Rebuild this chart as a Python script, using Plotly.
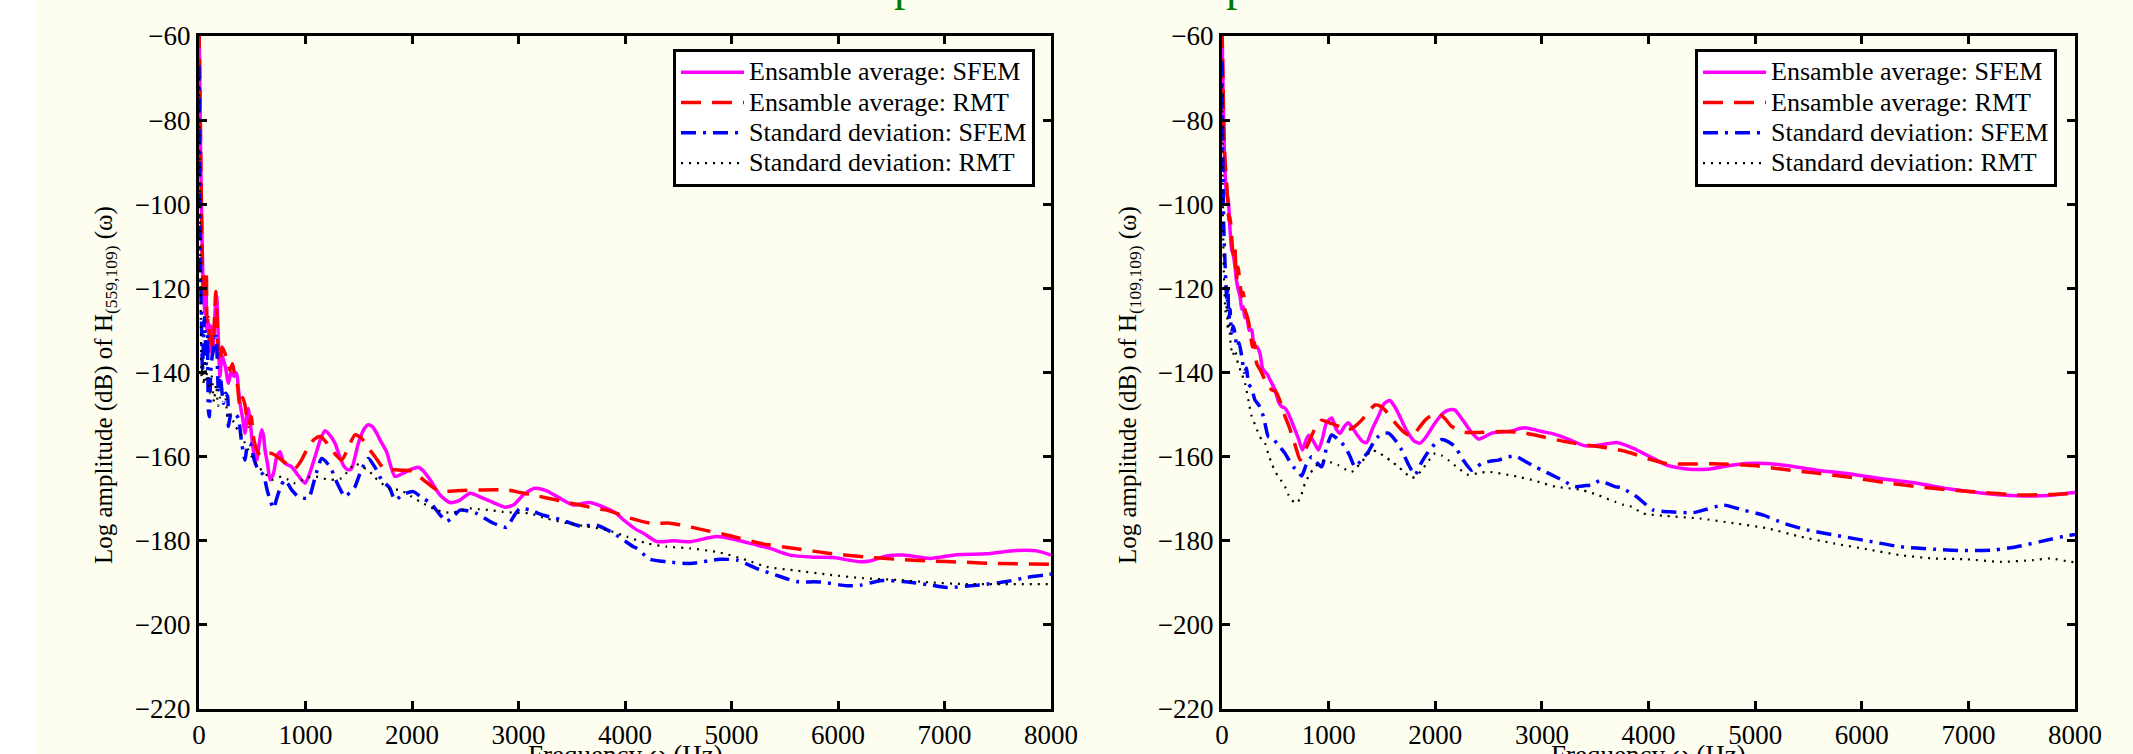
import plotly.graph_objects as go

W, H = 2133, 754
FONT = "Liberation Serif, Times New Roman, serif"

# ---------------- data: left panel, H(559,109) ----------------
L_SFEM_AVG = [[0,-58],[8,-72],[16,-90],[25,-104],[35,-116],[45,-121],[55,-126],[65,-118],[75,-130],[88,-128],
    [100,-135],[112,-129],[125,-136],[140,-131],[155,-124],[166,-122],[180,-131],[197,-141],[215,-136],[229,-137],
    [250,-139],[276,-142.6],[300,-140],[330,-141],[354,-140.2],[370,-144],[385,-147.4],[410,-151],[432,-154.5],[450,-150],
    [463,-148.6],[490,-154],[510,-158.5],[542,-160.9],[565,-157],[588,-153.7],[605,-155],[620,-158.5],[645,-162],[667,-165.6],
    [700,-164],[730,-160.1],[761,-158.9],[792,-161.3],[830,-162],[870,-162.5],[930,-164.5],[996,-166.4],[1040,-164],[1089,-160.1],
    [1140,-156],[1183,-153.9],[1230,-155],[1277,-156.9],[1320,-160],[1355,-162.1],[1400,-163.2],[1433,-162.9],[1496,-156.9],[1550,-153.5],
    [1590,-152.5],[1630,-153],[1668,-154.5],[1700,-156.1],[1762,-159],[1840,-164.8],[1919,-164.0],[2000,-163],[2060,-162.6],[2107,-163.5],
    [2170,-165.6],[2263,-169.2],[2357,-171.0],[2451,-170.4],[2545,-168.8],[2670,-170.0],[2764,-171.0],[2873,-172.1],[2952,-171.6],[3046,-169.2],
    [3155,-167.6],[3265,-168.2],[3390,-170.0],[3515,-171.6],[3600,-171.2],[3671,-171.0],[3828,-172.4],[3922,-173.6],[3985,-175.1],[4110,-177.5],
    [4173,-178.3],[4298,-180.3],[4454,-180.1],[4610,-180.3],[4861,-179.1],[5049,-179.9],[5205,-180.9],[5361,-181.9],[5549,-183.5],[5768,-184.0],
    [5956,-184.1],[6207,-185.1],[6301,-184.9],[6457,-183.7],[6614,-183.5],[6864,-184.3],[7115,-183.4],[7397,-183.2],[7615,-182.5],[7866,-182.5],
    [8000,-183.5]]

L_RMT_AVG = [[0,-58],[8,-70],[16,-88],[25,-103.8],[35,-118],[45,-123],[56,-115.7],[66,-116],[75,-128],[88,-127],
    [100,-133],[115,-130],[130,-135],[145,-128],[157,-120.8],[170,-128],[185,-137],[197,-137.9],[215,-134],[244,-135.5],
    [270,-138],[291,-139.5],[315,-138],[338,-141.1],[360,-143],[385,-148.2],[410,-146],[432,-147.8],[463,-152.9],[490,-150.5],
    [510,-155.3],[542,-158.5],[580,-160],[620,-159.5],[682,-159.3],[730,-160],[776,-160.9],[840,-162],[901,-162.9],[960,-161],
    [1027,-157.7],[1080,-156],[1136,-155.3],[1190,-156.5],[1246,-158.5],[1339,-160.9],[1400,-158],[1465,-154.9],[1527,-155.7],[1590,-158],
    [1653,-160.1],[1731,-162.8],[1778,-163.1],[1900,-163.3],[1997,-163.5],[2107,-165.6],[2232,-168.0],[2310,-168.3],[2420,-168.2],[2639,-168.0],
    [2889,-168.0],[3014,-168.6],[3171,-169.4],[3359,-170.4],[3578,-171.6],[3765,-172.6],[3828,-172.8],[4047,-174.7],[4235,-175.9],[4423,-175.9],
    [4517,-176.3],[4736,-177.5],[4986,-178.9],[5268,-180.7],[5612,-182.0],[5925,-183.1],[6238,-183.9],[6551,-184.5],[6864,-184.9],[7177,-185.2],
    [7490,-185.5],[8000,-185.7]]

L_SFEM_STD = [[0,-67],[8,-95],[16,-118],[25,-129.9],[32,-140],[40,-134],[50,-127],[60,-133],[70,-138],[80,-131],
    [88,-149],[97,-150.6],[110,-140],[125,-136],[135,-134.7],[150,-132],[160,-131.5],[182,-144.2],[200,-141],[229,-147.4],
    [250,-145],[269,-145.8],[276,-152.9],[300,-150],[338,-149.8],[370,-151],[401,-156.9],[432,-160.9],[450,-158],[479,-156.9],
    [520,-161],[557,-163.3],[604,-164.4],[640,-168],[667,-170.4],[700,-172.4],[730,-170],[770,-167],[808,-165.6],[870,-168],
    [933,-169.6],[1027,-170.0],[1090,-165],[1152,-160.5],[1200,-161.5],[1246,-163.3],[1300,-166.5],[1371,-169.6],[1420,-168.5],[1465,-167.2],
    [1520,-163.5],[1590,-160.5],[1650,-162.5],[1715,-165.6],[1790,-167.5],[1840,-170.4],[1920,-169],[2013,-168.4],[2100,-170],[2170,-171.0],
    [2250,-173.5],[2326,-175.5],[2400,-174],[2451,-172.8],[2530,-173],[2608,-173.6],[2700,-175],[2764,-175.9],[2889,-176.9],[2950,-174.5],
    [3014,-172.4],[3108,-172.8],[3233,-174.0],[3390,-175.0],[3578,-176.6],[3734,-176.4],[3891,-178.3],[4078,-181.5],[4110,-181.9],[4235,-184.5],
    [4392,-185.1],[4610,-185.5],[4892,-184.5],[5049,-184.7],[5237,-186.7],[5456,-188.6],[5612,-189.8],[5831,-189.9],[6082,-190.8],[6207,-190.7],
    [6395,-189.6],[6614,-189.8],[6864,-190.6],[7021,-191.2],[7334,-190.6],[7584,-189.8],[7772,-188.8],[7960,-188.2],[8000,-188.0]]

L_RMT_STD = [[0,-70],[8,-100],[16,-125],[25,-141],[35,-138],[45,-143],[55,-137],[65,-142],[75,-140],[88,-142.6],
    [100,-145],[120,-141],[140,-147],[160,-143],[180,-148],[200,-146],[244,-145.8],[270,-151],[300,-150],[338,-152.9],
    [380,-154],[432,-156.9],[494,-160.1],[557,-162.5],[620,-164],[682,-165.6],[730,-165.2],[776,-164.8],[840,-165.6],[901,-166.4],
    [980,-165.5],[1058,-164.8],[1140,-165],[1214,-165.6],[1280,-165.5],[1339,-165.2],[1400,-163.5],[1465,-161.7],[1530,-162.5],[1590,-163.3],
    [1650,-165],[1715,-166.4],[1790,-167.8],[1888,-168.0],[1990,-169.5],[2076,-170.8],[2150,-171.8],[2232,-172.8],[2300,-173.3],[2388,-173.4],
    [2470,-172.8],[2545,-172.4],[2630,-172.6],[2733,-172.8],[2850,-173.2],[2952,-173.4],[3108,-173.6],[3265,-174.8],[3453,-175.9],[3641,-176.7],
    [3828,-177.5],[4016,-179.1],[4204,-180.7],[4392,-181.5],[4610,-181.9],[4892,-182.9],[5143,-184.7],[5331,-186.3],[5612,-187.2],[5925,-188.2],
    [6238,-189.0],[6551,-189.4],[6864,-190.0],[7177,-190.4],[7490,-190.4],[8000,-190.4]]

# ---------------- data: right panel, H(109,109) ----------------
R_SFEM_AVG = [[0,-58],[8,-70],[16,-82],[28,-91.9],[40,-97],[59,-99],[75,-106],[91,-110.9],[105,-112],[122,-114.9],
    [135,-118],[153,-120.4],[170,-122],[185,-125],[200,-124.4],[215,-127],[232,-126.8],[255,-130],[278,-129.9],[295,-133],
    [309,-133.9],[330,-134],[356,-135.5],[380,-139],[403,-139.9],[425,-140.5],[450,-141.8],[475,-143],[497,-144.2],[530,-147],
    [560,-148.2],[590,-148.5],[622,-149.8],[650,-151.5],[685,-153.7],[720,-156],[754,-158.5],[790,-156],[815,-155],[841,-155.7],
    [870,-157],[904,-158.5],[940,-156],[980,-152],[1029,-150.9],[1070,-153.5],[1107,-154.5],[1150,-152.8],[1185,-152.0],[1230,-153.5],
    [1279,-155.3],[1320,-156.5],[1357,-156.7],[1410,-153.5],[1466,-150.5],[1520,-147.5],[1575,-146.7],[1610,-147.8],[1654,-149.8],[1700,-152.3],
    [1747,-154.5],[1800,-156.3],[1857,-156.9],[1910,-155.5],[1966,-153.3],[2030,-151],[2091,-149.4],[2140,-148.9],[2185,-149.0],[2230,-150.4],
    [2279,-152.1],[2340,-154.3],[2404,-155.9],[2460,-155.4],[2529,-154.5],[2620,-154.2],[2716,-154.0],[2790,-153.4],[2842,-153.2],[2920,-153.6],
    [2998,-154.1],[3100,-154.6],[3186,-155.3],[3300,-156.5],[3405,-157.5],[3545,-157.3],[3702,-156.7],[3858,-158.1],[4015,-160.1],[4171,-162.1],
    [4358,-163.0],[4546,-163.1],[4733,-162.3],[4921,-161.7],[5109,-161.7],[5296,-162.2],[5577,-163.3],[5890,-164.2],[6203,-165.4],[6515,-166.4],
    [6828,-167.8],[7141,-168.8],[7454,-169.4],[7673,-169.4],[7861,-169.0],[8000,-168.6]]

R_RMT_AVG = [[0,-58],[8,-68],[16,-80],[25,-88],[35,-92],[44,-95],[55,-100],[65,-104],[75,-103],[91,-108],
    [105,-112],[120,-110],[135,-118],[150,-115],[169,-118.8],[185,-122],[200,-121],[216,-125.2],[240,-127],[263,-129.9],
    [285,-134],[305,-133],[325,-137.9],[360,-139.5],[403,-141.8],[430,-143],[466,-144.2],[500,-144.5],[528,-145.8],[560,-148],
    [591,-150.5],[630,-153],[669,-156.0],[700,-158.5],[732,-160.9],[770,-159],[810,-156.9],[870,-153.5],[935,-151.4],[1000,-152],
    [1060,-152.5],[1120,-153.2],[1185,-153.7],[1250,-152.8],[1310,-151.4],[1370,-149.5],[1435,-147.8],[1480,-148],[1529,-149.0],[1590,-151],
    [1654,-152.9],[1720,-154.5],[1779,-155.3],[1840,-153.5],[1904,-151.4],[1960,-150.3],[2029,-149.8],[2090,-151],[2154,-152.9],[2220,-153.8],
    [2279,-154.3],[2435,-154.3],[2623,-154.1],[2810,-154.3],[2998,-155.3],[3217,-156.5],[3467,-157.5],[3545,-157.7],[3686,-158.3],[3795,-158.9],
    [4015,-160.7],[4171,-161.7],[4421,-161.8],[4671,-161.8],[4983,-162.2],[5265,-163.1],[5577,-164.0],[5890,-165.0],[6203,-166.2],[6515,-167.2],
    [6828,-168.0],[7141,-168.6],[7454,-169.2],[7767,-169.1],[8000,-168.8]]

R_SFEM_STD = [[0,-66],[8,-90],[16,-105],[25,-112],[35,-118],[45,-122.8],[55,-120],[65,-128],[75,-125],[90,-130.7],
    [105,-129],[122,-130.7],[140,-134],[160,-133],[185,-136.3],[210,-140],[230,-139],[247,-142.6],[280,-144],[309,-146.6],
    [350,-148],[388,-150.5],[410,-153],[434,-155.3],[470,-155.5],[513,-156.9],[550,-158],[591,-159.3],[630,-161],[669,-162.5],
    [710,-163.5],[747,-164.7],[790,-162],[841,-160.1],[890,-161.5],[935,-162.5],[980,-158],[1029,-154.9],[1090,-156],[1154,-157.7],
    [1200,-160],[1248,-162.5],[1310,-160.8],[1373,-158.9],[1420,-156.8],[1466,-155.3],[1510,-154.6],[1560,-154.5],[1620,-156],[1685,-158.5],
    [1750,-162],[1810,-164.4],[1870,-161.5],[1935,-158.9],[2000,-157],[2060,-156.0],[2120,-156.5],[2185,-157.7],[2260,-160.8],[2341,-163.3],
    [2390,-162.5],[2435,-161.7],[2510,-161.2],[2591,-160.9],[2670,-160.3],[2748,-159.9],[2850,-161.3],[2936,-162.5],[3000,-163.3],[3092,-164.4],
    [3200,-165.8],[3311,-167.2],[3400,-167],[3467,-166.8],[3545,-165.8],[3600,-166.3],[3686,-167.2],[3733,-167.4],[3842,-168.8],[3889,-169.6],
    [4046,-172.8],[4202,-173.2],[4421,-173.4],[4546,-172.6],[4702,-171.6],[4890,-172.8],[5077,-174.0],[5265,-175.9],[5484,-177.5],[5734,-178.7],
    [6046,-180.1],[6359,-181.5],[6671,-182.1],[6922,-182.4],[7235,-182.3],[7454,-181.5],[7673,-180.3],[7923,-178.9],[8000,-178.6]]

R_RMT_STD = [[0,-72],[8,-100],[16,-115],[25,-122],[35,-126],[45,-124],[55,-130],[65,-128],[80,-133],[100,-136],
    [122,-134.7],[150,-138],[180,-140],[216,-142.6],[250,-147],[278,-150.5],[310,-152.5],[341,-154.5],[370,-156],[403,-156.9],
    [435,-159.5],[466,-161.7],[497,-163.5],[528,-164.8],[560,-166],[591,-167.2],[620,-169],[654,-170.4],[700,-171.2],[740,-169.5],
    [779,-166.4],[825,-164.2],[872,-162.5],[920,-161.5],[966,-160.9],[1030,-161.5],[1091,-162.1],[1150,-163],[1216,-163.7],[1260,-162.7],
    [1310,-161.3],[1360,-159.8],[1404,-158.5],[1460,-159],[1529,-160.1],[1590,-161.2],[1654,-162.5],[1720,-164],[1779,-165.2],[1830,-164.5],
    [1873,-163.3],[1940,-161],[1998,-159.3],[2060,-159.8],[2123,-160.9],[2210,-162.7],[2310,-164.4],[2400,-164],[2498,-163.7],[2590,-164],
    [2685,-164.4],[2800,-165],[2904,-165.6],[3010,-166.4],[3123,-167.2],[3250,-167.6],[3373,-168.0],[3450,-168.6],[3530,-169.2],[3600,-170],
    [3686,-170.8],[3760,-171.5],[3842,-172.0],[3952,-173.6],[4171,-174.2],[4483,-174.8],[4796,-175.9],[5109,-177.1],[5421,-179.1],[5734,-180.7],
    [6046,-182.1],[6359,-183.5],[6671,-184.3],[6984,-184.5],[7298,-185.1],[7611,-184.7],[7767,-184.3],[7955,-185.1],[8000,-185.2]]

SERIES_NAMES = ["Ensamble average: SFEM", "Ensamble average: RMT",
                "Standard deviation: SFEM", "Standard deviation: RMT"]
X_TICKS = [0, 1000, 2000, 3000, 4000, 5000, 6000, 7000, 8000]
Y_TICKS = [-220, -200, -180, -160, -140, -120, -100, -80, -60]
Y_LABELS = ["Log amplitude (dB) of H<sub>(559,109)</sub> (ω)",
            "Log amplitude (dB) of H<sub>(109,109)</sub> (ω)"]
X_LABEL = "Frequency ω (Hz)"

STYLES = [dict(color="#FF00FF", width=3.5, dash="solid"),
          dict(color="#FF0000", width=3.5, dash="20px,11px"),
          dict(color="#0000FF", width=3.5, dash="15px,7px,3px,7px"),
          dict(color="#000000", width=2.2, dash="2px,6px")]

def px(x):
    return x / W

def py(y):
    return 1 - y / H

CREAM = "#FDFDF0"
LEGEND_TEXT_PX = 26   # glyph size of legend entries
LEGEND_ROW_FONT = 21  # sets the legend row pitch (tight rows as in the original)

fig = go.Figure()

panels = [([L_SFEM_AVG, L_RMT_AVG, L_SFEM_STD, L_RMT_STD], "x", "y", "legend"),
          ([R_SFEM_AVG, R_RMT_AVG, R_SFEM_STD, R_RMT_STD], "x2", "y2", "legend2")]
for series, xa, ya, lg in panels:
    for data, name, st in zip(series, SERIES_NAMES, STYLES):
        fig.add_trace(go.Scatter(
            x=[p[0] for p in data], y=[p[1] for p in data], mode="lines",
            name=f'<span style="font-size:{LEGEND_TEXT_PX}px">{name}</span>',
            line=dict(color=st["color"], width=st["width"], dash=st["dash"], shape="spline", smoothing=0.6),
            xaxis=xa, yaxis=ya, legend=lg))

axis_common = dict(showline=True, linecolor="black", linewidth=3, mirror="ticks",
                   ticks="inside", ticklen=8, tickwidth=2.5, tickcolor="black",
                   showgrid=False, zeroline=False, automargin=False,
                   tickfont=dict(family=FONT, size=27, color="black"))
Y0, Y1 = 36, 708.5
fig.update_layout(
    width=W, height=H,
    margin=dict(l=0, r=0, t=0, b=0, autoexpand=False),
    paper_bgcolor="white", plot_bgcolor=CREAM,
    xaxis=dict(domain=[px(199), px(1051)], range=[0, 8000], tickvals=X_TICKS, anchor="y", **axis_common),
    yaxis=dict(domain=[py(Y1), py(Y0)], range=[-220, -60], tickvals=Y_TICKS, anchor="x", **axis_common),
    xaxis2=dict(domain=[px(1222), px(2075)], range=[0, 8000], tickvals=X_TICKS, anchor="y2", **axis_common),
    yaxis2=dict(domain=[py(Y1), py(Y0)], range=[-220, -60], tickvals=Y_TICKS, anchor="x2", **axis_common),
    showlegend=True,
)

legend_common = dict(xanchor="right", yanchor="top", y=py(49), bgcolor="white",
                     bordercolor="black", borderwidth=3, itemwidth=63, tracegroupgap=0,
                     font=dict(family=FONT, size=LEGEND_ROW_FONT, color="black"))
fig.update_layout(legend=dict(x=px(1035), **legend_common),
                  legend2=dict(x=px(2057), **legend_common))

# cream figure background (white strip at the far left)
fig.add_shape(type="rect", xref="paper", yref="paper", x0=px(35), x1=1.02, y0=-0.05, y1=1.05,
              fillcolor=CREAM, line=dict(width=0), layer="below")

ann = []
for xc, lab in [(105, Y_LABELS[0]), (1129, Y_LABELS[1])]:
    ann.append(dict(text=lab, xref="paper", yref="paper", x=px(xc), y=py(385), textangle=-90,
                    showarrow=False, xanchor="center", yanchor="middle",
                    font=dict(family=FONT, size=25, color="black")))
for xc in [625, 1648.5]:
    ann.append(dict(text=X_LABEL, xref="paper", yref="paper", x=px(xc), y=py(738), yanchor="top",
                    showarrow=False, xanchor="center", font=dict(family=FONT, size=27, color="black")))
# bottom of the (cropped) green title line
for xc in [905, 1237]:
    ann.append(dict(text="p", xref="paper", yref="paper", x=px(xc), y=py(12), yanchor="bottom",
                    showarrow=False, xanchor="center", font=dict(family=FONT, size=46, color="#007A00")))
fig.update_layout(annotations=ann)

fig.write_html("out.html", config={"displayModeBar": False},
               post_script="document.body.style.margin='0px';document.body.style.overflow='hidden';")
